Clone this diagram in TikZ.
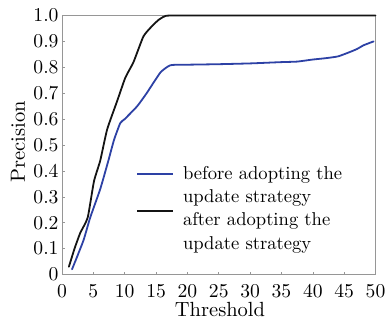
\documentclass[tikz,border=0pt]{standalone}
\usepackage{fontspec}
\setmainfont{lmroman10-regular.otf}
\definecolor{axisgray}{RGB}{150,150,150}
\definecolor{curveblue}{RGB}{45,65,165}
\definecolor{curveblack}{RGB}{20,20,20}
\begin{document}
\begin{tikzpicture}[x=1pt,y=1pt,
  font=\fontsize{18.6}{23}\selectfont,
  frame/.style={draw=axisgray, line width=0.8pt},
  tickmark/.style={draw=axisgray, line width=0.6pt},
  curve/.style={line width=1.8pt, line join=round, line cap=round},
  lbl/.style={inner sep=0pt, outer sep=0pt},
  ticklbl/.style={lbl, font=\fontsize{19.6}{23}\selectfont},
  axtitle/.style={lbl, font=\fontsize{20.5}{24}\selectfont}]
\useasboundingbox (0,0) rectangle (389,330);
\begin{scope}[shift={(62,55.5)}, x=6.27pt, y=259pt]
  \draw[frame] (0,0) rectangle (50,1);
  \foreach \t in {5,10,...,45} \draw[tickmark] (\t,0) -- ++(0,2.5pt);
  \foreach \t in {0.1,0.2,...,0.9} \draw[tickmark] (0,\t) -- ++(2.5pt,0);
  \draw[curve, curveblue] plot[smooth, tension=0.3] coordinates {
    (1.6,0.02) (3.4,0.13) (4.5,0.22) (6.1,0.33) (7.4,0.44) (8.3,0.52)
    (9.3,0.585) (10,0.6) (12,0.65) (13.5,0.70) (15.7,0.78) (17.3,0.808)
    (20,0.81) (25,0.812) (30,0.815) (35,0.82) (37.5,0.822) (40,0.83)
    (42,0.835) (44,0.842) (45.7,0.857) (47,0.87) (48.1,0.885) (49.7,0.9)};
  \draw[curve, curveblack] plot[smooth, tension=0.3] coordinates {
    (1.1,0.03) (2,0.1) (2.9,0.16) (4.1,0.22) (5.1,0.36) (6.1,0.44)
    (7.2,0.56) (8.8,0.67) (10.1,0.76) (11.4,0.82) (13,0.92) (14.4,0.96)
    (15.4,0.983) (16.3,0.996) (17.5,1.0) (30,1.0) (50,1.0)};
\end{scope}
% y tick labels
\foreach \v/\s [count=\k] in {0/0,0.1/0.1,0.2/0.2,0.3/0.3,0.4/0.4,0.5/0.5,0.6/0.6,0.7/0.7,0.8/0.8,0.9/0.9,1.0/1.0}
  \node[ticklbl, anchor=east] (yl\k) at (58.5,{55.5+259*\v}) {\s};
% x tick labels
\foreach \d [count=\k] in {0,5,...,50}
  \node[ticklbl, anchor=base] (xl\k) at ({62+6.27*\d},32) {\d};
\node[axtitle, anchor=base] (xtitle) at (220,13) {Threshold};
\node[axtitle, rotate=90, anchor=center] (ytitle) at (18,188) {Precision};
% legend
\coordinate (lba) at (137,156);
\coordinate (lbb) at (173,156);
\coordinate (lka) at (137,119);
\coordinate (lkb) at (173,119);
\draw[curve, curveblue, line cap=butt] (lba) -- (lbb);
\draw[curve, curveblack, line cap=butt] (lka) -- (lkb);
\node[lbl, anchor=base west] (t1) at (183,150) {before adopting the};
\node[lbl, anchor=base west] (t2) at (183,127) {update strategy};
\node[lbl, anchor=base west] (t3) at (183,104) {after adopting the};
\node[lbl, anchor=base west] (t4) at (183,81) {update strategy};
\end{tikzpicture}
\end{document}
